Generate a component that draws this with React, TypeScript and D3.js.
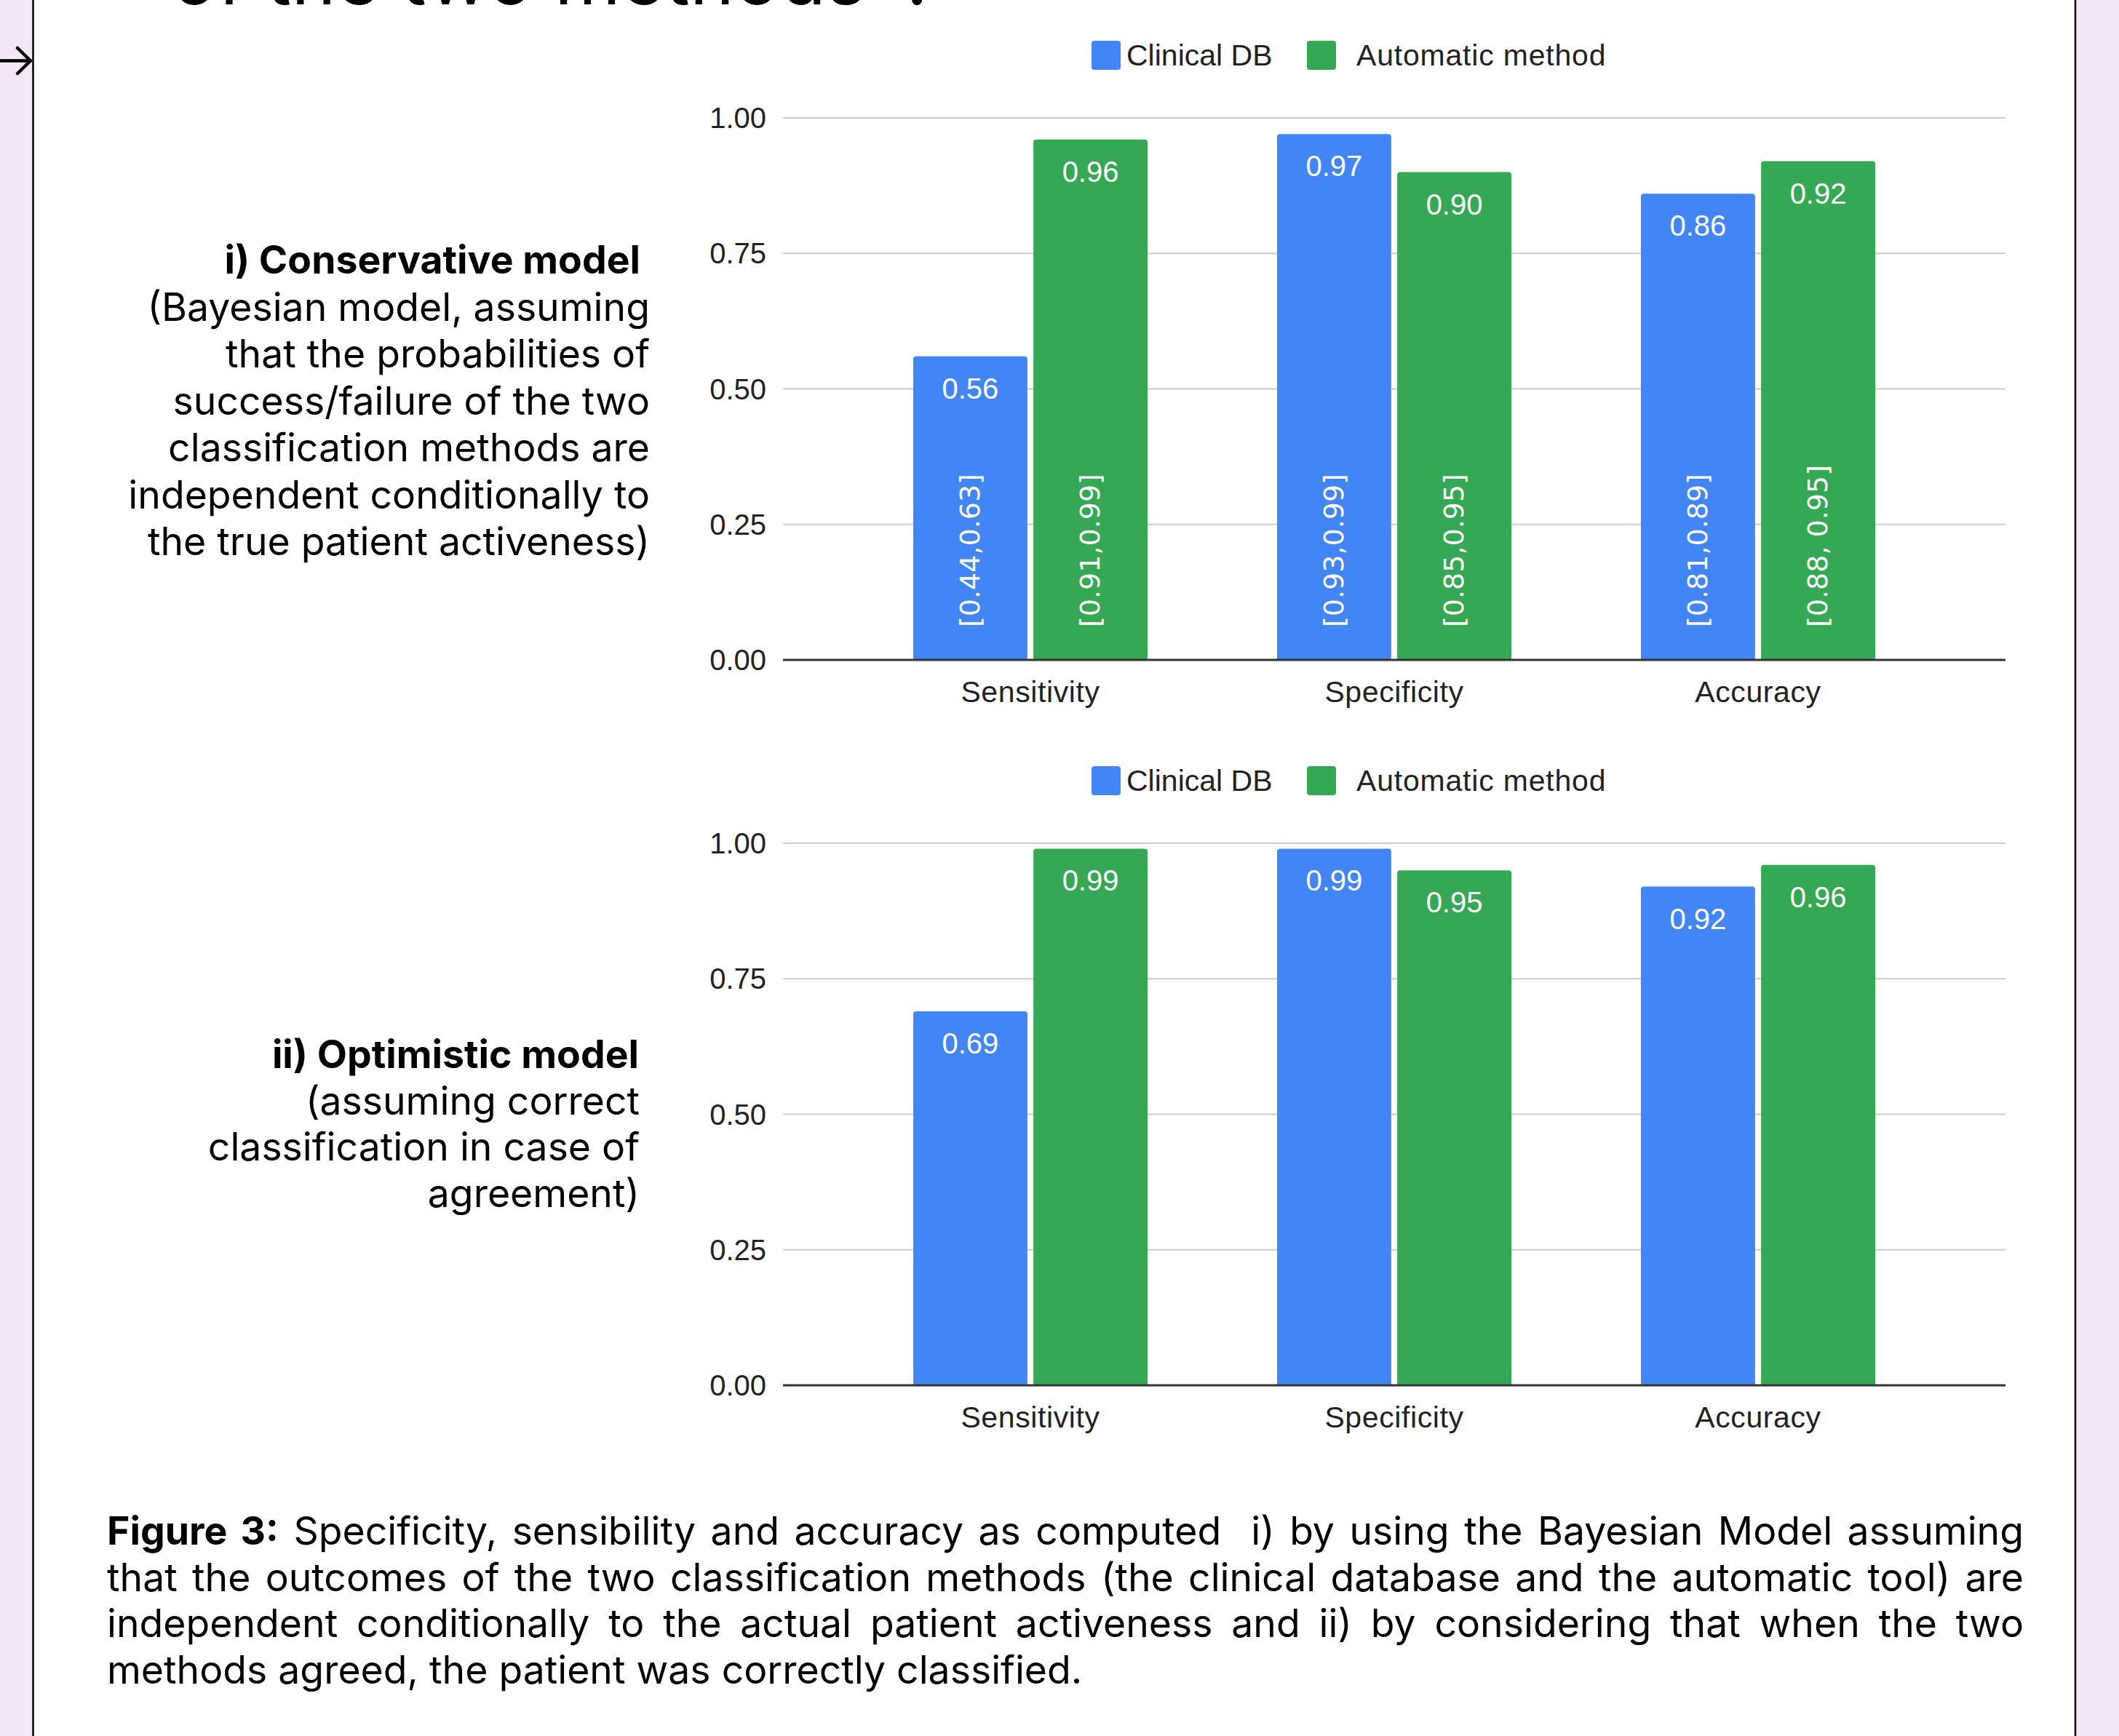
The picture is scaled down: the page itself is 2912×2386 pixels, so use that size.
import React, { useEffect, useRef } from "react";
import * as d3 from "d3";

// ---------- data ----------
const categories = ["Sensitivity", "Specificity", "Accuracy"];
const seriesNames = ["Clinical DB", "Automatic method"];
const seriesColors = ["#4285F4", "#34A853"];

const conservativeClinical = [0.56, 0.97, 0.86];
const conservativeAutomatic = [0.96, 0.9, 0.92];
const conservativeClinicalCI = ["[0.44,0.63]", "[0.93,0.99]", "[0.81,0.89]"];
const conservativeAutomaticCI = ["[0.91,0.99]", "[0.85,0.95]", "[0.88, 0.95]"];

const optimisticClinical = [0.69, 0.99, 0.92];
const optimisticAutomatic = [0.99, 0.95, 0.96];

const yTicks = [0, 0.25, 0.5, 0.75, 1];

const conservativeTitle = "i) Conservative model";
const conservativeLines = [
  "(Bayesian model, assuming",
  "that the probabilities of",
  "success/failure of the two",
  "classification methods are",
  "independent conditionally to",
  "the true patient activeness)",
];
const optimisticTitle = "ii) Optimistic model";
const optimisticLines = ["(assuming correct", "classification in case of", "agreement)"];

const captionBold = "Figure 3:";
const captionLines = [
  " Specificity, sensibility and accuracy as computed  i) by using the Bayesian Model assuming",
  "that the outcomes of the two classification methods (the clinical database and the automatic tool) are",
  "independent conditionally to the actual patient activeness and ii) by considering that when the two",
  "methods agreed, the patient was correctly classified.",
];
const pageTitle = "of the two methods\u201D?";

// ---------- layout ----------
const W = 2912;
const H = 2386;
const PLOT_X0 = 1076;
const PLOT_X1 = 2756;
const CHART_FONT = "'Liberation Sans', Arial, sans-serif";
const TEXT_FONT = "Inter, 'Noto Sans', sans-serif";
const CI_FONT = "'DejaVu Sans', sans-serif";
const SIDE_SIZE = 53.5;
const fmt = d3.format(".2f");

function topRoundedBar(x: number, y: number, w: number, h: number, r: number) {
  const rr = Math.min(r, h, w / 2);
  return `M${x},${y + h}V${y + rr}Q${x},${y} ${x + rr},${y}H${x + w - rr}Q${x + w},${y} ${x + w},${y + rr}V${y + h}Z`;
}

type ChartProps = {
  yTop: number;
  yZero: number;
  legendY: number;
  clinical: number[];
  automatic: number[];
  clinicalCI?: string[];
  automaticCI?: string[];
};

function BarChart({ yTop, yZero, legendY, clinical, automatic, clinicalCI, automaticCI }: ChartProps) {
  const y = d3.scaleLinear().domain([0, 1]).range([yZero, yTop]);
  const x0 = d3.scaleBand<string>().domain(categories).range([PLOT_X0, PLOT_X1]).paddingInner(0.356).paddingOuter(0.358);
  const x1 = d3.scaleBand<string>().domain(seriesNames).range([0, x0.bandwidth()]).paddingInner(0.05);
  const values = [clinical, automatic];
  const cis = [clinicalCI, automaticCI];

  const legendItems = [
    { sq: 1500, tx: 1548 },
    { sq: 1796, tx: 1864 },
  ];

  return (
    <g>
      {/* legend */}
      {seriesNames.map((s, i) => (
        <g key={s}>
          <rect x={legendItems[i].sq} y={legendY - 20} width={40} height={40} rx={4} fill={seriesColors[i]} />
          <text
            x={legendItems[i].tx}
            y={legendY + 14}
            fontFamily={CHART_FONT}
            fontSize={41}
            letterSpacing={i === 1 ? 0.8 : 0}
            fill="#222"
          >
            {s}
          </text>
        </g>
      ))}
      {/* grid + y labels */}
      {yTicks.map((t) => (
        <g key={t}>
          {t !== 0 && (
            <line x1={PLOT_X0} x2={PLOT_X1} y1={y(t)} y2={y(t)} stroke="#cccccc" strokeWidth={2} />
          )}
          <text
            x={1053}
            y={y(t) + 14}
            textAnchor="end"
            fontFamily={CHART_FONT}
            fontSize={40}
            fill="#222"
          >
            {fmt(t)}
          </text>
        </g>
      ))}
      {/* bars */}
      {categories.map((c, ci) => (
        <g key={c} transform={`translate(${x0(c)},0)`}>
          {seriesNames.map((s, si) => {
            const v = values[si][ci];
            const bx = x1(s)!;
            const bw = x1.bandwidth();
            const top = y(v);
            const label = cis[si] ? cis[si]![ci] : null;
            return (
              <g key={s}>
                <path d={topRoundedBar(bx, top, bw, yZero - top, 4)} fill={seriesColors[si]} />
                <text
                  x={bx + bw / 2}
                  y={top + 58}
                  textAnchor="middle"
                  fontFamily={CHART_FONT}
                  fontSize={40}
                  fill="#ffffff"
                >
                  {fmt(v)}
                </text>
                {label && (
                  <text
                    transform={`translate(${bx + bw / 2},${yZero - 45}) rotate(-90)`}
                    dy="0.33em"
                    textAnchor="start"
                    fontFamily={CI_FONT}
                    fontSize={38}
                    fill="#ffffff"
                  >
                    {label}
                  </text>
                )}
              </g>
            );
          })}
        </g>
      ))}
      {/* zero axis */}
      <line x1={PLOT_X0} x2={PLOT_X1} y1={yZero} y2={yZero} stroke="#333333" strokeWidth={3} />
      {/* category labels */}
      {categories.map((c) => (
        <text
          key={c}
          x={x0(c)! + x0.bandwidth() / 2}
          y={yZero + 58}
          textAnchor="middle"
          fontFamily={CHART_FONT}
          fontSize={41}
          letterSpacing={0.6}
          fill="#222"
        >
          {c}
        </text>
      ))}
    </g>
  );
}

export default function App() {
  const svgRef = useRef<SVGSVGElement>(null);

  useEffect(() => {
    document.body.style.margin = "0";
    const justify = () => {
      const svg = d3.select(svgRef.current);
      svg.selectAll<SVGTextElement, unknown>("text.justify").each(function () {
        const el = this as SVGTextElement;
        el.style.wordSpacing = "0px";
        const len = el.getComputedTextLength();
        const target = +(el.getAttribute("data-width") || "0");
        const spaces = (el.textContent || "").split(" ").length - 1;
        if (spaces > 0) el.style.wordSpacing = `${(target - len) / spaces}px`;
      });
    };
    justify();
    if ((document as any).fonts && (document as any).fonts.ready) {
      (document as any).fonts.ready.then(justify);
    }
  }, []);

  const capX = 147;
  const capW = 2634;

  return (
    <svg
      ref={svgRef}
      width={W}
      height={H}
      style={{ position: "absolute", left: 0, top: 0, display: "block" }}
    >
      <rect x={0} y={0} width={W} height={H} fill="#F3E6F6" />
      <rect x={46} y={0} width={2852 - 46} height={H} fill="#ffffff" />
      <line x1={45.5} x2={45.5} y1={0} y2={H} stroke="#000" strokeWidth={2.5} />
      <line x1={2852} x2={2852} y1={0} y2={H} stroke="#000" strokeWidth={2.5} />
      {/* arrow */}
      <path d="M0,83.5H42M24,66L42,83.5L24,101" fill="none" stroke="#000" strokeWidth={4.5} strokeLinecap="round" strokeLinejoin="round" />
      {/* cut title */}
      <text x={236} y={6} fontFamily={TEXT_FONT} fontSize={104} fill="#000">
        {pageTitle}
      </text>

      {/* left descriptions */}
      <text x={880} y={376} textAnchor="end" fontFamily={TEXT_FONT} fontWeight={700} fontSize={SIDE_SIZE} fill="#000">
        {conservativeTitle}
      </text>
      {conservativeLines.map((l, i) => (
        <text key={l} x={893} y={376 + 64.5 * (i + 1)} textAnchor="end" fontFamily={TEXT_FONT} fontSize={SIDE_SIZE} fill="#000">
          {l}
        </text>
      ))}
      <text x={878} y={1468} textAnchor="end" fontFamily={TEXT_FONT} fontWeight={700} fontSize={SIDE_SIZE} fill="#000">
        {optimisticTitle}
      </text>
      {optimisticLines.map((l, i) => (
        <text key={l} x={879} y={1468 + 63.5 * (i + 1)} textAnchor="end" fontFamily={TEXT_FONT} fontSize={SIDE_SIZE} fill="#000">
          {l}
        </text>
      ))}

      <BarChart
        yTop={162}
        yZero={907}
        legendY={76}
        clinical={conservativeClinical}
        automatic={conservativeAutomatic}
        clinicalCI={conservativeClinicalCI}
        automaticCI={conservativeAutomaticCI}
      />
      <BarChart
        yTop={1159}
        yZero={1904}
        legendY={1073}
        clinical={optimisticClinical}
        automatic={optimisticAutomatic}
      />

      {/* caption */}
      {captionLines.map((l, i) => {
        const isLast = i === captionLines.length - 1;
        return (
          <text
            key={i}
            className={isLast ? undefined : "justify"}
            data-width={capW}
            x={capX}
            y={2123 + 63.5 * i}
            fontFamily={TEXT_FONT}
            fontSize={53.5}
            fill="#000"
            style={{ whiteSpace: "pre" }}
          >
            {i === 0 && <tspan fontWeight={700}>{captionBold}</tspan>}
            {l}
          </text>
        );
      })}
    </svg>
  );
}
